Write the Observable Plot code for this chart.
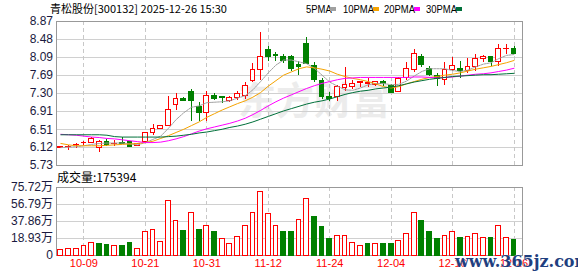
<!DOCTYPE html>
<html><head><meta charset="utf-8">
<script src="https://cdn.jsdelivr.net/npm/d3@7"></script>
<script src="https://cdn.jsdelivr.net/npm/@observablehq/plot@0.6"></script>
<style>
body{margin:0;background:#fff;}
#wrap{position:relative;width:578px;height:276px;overflow:hidden;background:#fff;}
.abs{position:absolute;white-space:nowrap;}
svg{overflow:visible;}
</style></head><body>
<div id="wrap">
  <div class="abs" style="left:238px;top:78px;font:bold 38px 'Noto Sans CJK SC';color:#ececec;line-height:40px;">东方财富</div>
  <div id="main" class="abs" style="left:0;top:0"></div>
  <div id="vol" class="abs" style="left:0;top:170px"></div>
  <div class="abs" style="left:50px;top:1px;font:11px 'Noto Sans CJK SC';line-height:14px;color:#000">青松股份[300132] 2025-12-26 15:30</div>
  <div id="legend"></div>
  <div class="abs" style="left:57px;top:169px;font:12px 'Noto Sans CJK SC';line-height:16px;color:#000">成交量:175394</div>
  <div class="abs" style="left:455px;top:253px;font:bold 16px 'DejaVu Serif';line-height:18px;color:#1f3f80;text-shadow:0 0 1px #fff;">www.365jz.com</div>
</div>
<script>
const dates = ["09-26","09-29","09-30","10-09","10-10","10-13","10-14","10-15","10-16","10-17","10-20","10-21","10-22","10-23","10-24","10-27","10-28","10-29","10-30","10-31","11-03","11-04","11-05","11-06","11-07","11-10","11-11","11-12","11-13","11-14","11-17","11-18","11-19","11-20","11-21","11-24","11-25","11-26","11-27","11-28","12-01","12-02","12-03","12-04","12-05","12-08","12-09","12-10","12-11","12-12","12-15","12-16","12-17","12-18","12-19","12-22","12-23","12-24","12-25","12-26"];
const open  = [6.11,6.13,6.17,6.22,6.21,6.11,6.24,6.19,6.21,6.25, 6.16,6.25,6.43,6.52,6.60,7.04,7.18,7.33,7.00,6.88, 7.24,7.22,7.13,7.20,7.24,7.57,7.82,8.25,8.13,8.09, 8.09,7.93,8.38,7.90,7.57,7.22,7.22,7.42,7.44,7.53, 7.50,7.49,7.54,7.46,7.33,7.64,7.81,8.09,7.83,7.68, 7.59,7.82,7.83,7.80,7.88,8.06,8.09,7.98,8.26,8.27];
const high  = [6.15,6.16,6.22,6.26,6.33,6.27,6.30,6.28,6.35,6.26, 6.21,6.46,6.63,6.61,7.23,7.31,7.22,7.38,7.10,7.34, 7.30,7.24,7.24,7.35,7.55,7.95,8.63,8.32,8.19,8.16, 8.12,7.99,8.52,7.97,7.62,7.32,7.48,7.86,7.59,7.57, 7.62,7.57,7.59,7.49,7.64,7.97,8.27,8.15,7.88,7.73, 7.97,8.08,7.99,8.06,8.14,8.13,8.11,8.37,8.36,8.33];
const low   = [6.10,6.05,6.11,6.16,6.20,6.01,6.14,6.14,6.18,6.12, 6.14,6.21,6.38,6.51,6.58,6.92,7.12,6.68,6.68,6.70, 7.15,7.08,7.10,7.15,7.17,7.54,7.59,7.99,8.00,7.95, 7.79,7.70,7.93,7.55,7.17,7.13,7.13,7.35,7.39,7.44, 7.44,7.46,7.46,7.30,7.32,7.58,7.76,7.87,7.66,7.46, 7.48,7.77,7.62,7.73,7.77,7.98,7.88,7.88,8.14,8.14];
const close = [6.14,6.14,6.18,6.23,6.31,6.24,6.17,6.20,6.19,6.13, 6.20,6.43,6.53,6.60,6.93,7.18,7.13,7.14,6.88,7.24, 7.18,7.20,7.21,7.28,7.46,7.81,8.09,8.10,8.12,8.00, 7.84,7.88,7.95,7.60,7.22,7.17,7.44,7.48,7.50,7.54, 7.53,7.54,7.51,7.32,7.61,7.83,8.17,7.92,7.70,7.62, 7.81,7.89,7.79,7.88,8.06,8.09,7.98,8.26,8.27,8.16];
const ma5  = [6.12,6.13,6.14,6.16,6.19,6.21,6.22,6.22,6.22,6.20, 6.18,6.23,6.30,6.37,6.54,6.73,6.88,7.00,7.03,7.10, 7.11,7.12,7.14,7.20,7.25,7.38,7.56,7.75,7.92,8.03, 8.03,7.99,7.95,7.85,7.70,7.55,7.46,7.38,7.37,7.42, 7.49,7.52,7.52,7.49,7.50,7.57,7.68,7.78,7.84,7.84, 7.84,7.80,7.78,7.81,7.88,7.94,7.97,8.06,8.13,8.15];
const ma10 = [6.21,6.18,6.16,6.16,6.16,6.16,6.17,6.18,6.19,6.20, 6.21,6.23,6.26,6.32,6.38,6.45,6.52,6.60,6.68,6.78, 6.86,6.94,7.01,7.08,7.14,7.22,7.32,7.46,7.58,7.70, 7.77,7.84,7.88,7.86,7.83,7.79,7.72,7.67,7.63,7.60, 7.56,7.51,7.45,7.42,7.45,7.51,7.56,7.61,7.65,7.67, 7.70,7.72,7.75,7.79,7.83,7.86,7.89,7.93,7.97,8.02];
const ma20 = [6.41,6.40,6.39,6.37,6.35,6.34,6.32,6.31,6.29,6.27, 6.25,6.23,6.23,6.24,6.27,6.31,6.36,6.42,6.48,6.53, 6.57,6.61,6.65,6.70,6.76,6.84,6.93,7.03,7.12,7.20, 7.27,7.34,7.41,7.47,7.52,7.56,7.60,7.63,7.64,7.65, 7.65,7.65,7.65,7.65,7.65,7.65,7.66,7.66,7.65,7.64, 7.65,7.66,7.68,7.70,7.72,7.73,7.75,7.78,7.81,7.85];
const ma30 = [6.40,6.40,6.40,6.40,6.40,6.40,6.39,6.36,6.35,6.35, 6.35,6.35,6.35,6.35,6.36,6.37,6.39,6.41,6.44,6.46, 6.49,6.52,6.56,6.59,6.63,6.68,6.74,6.80,6.86,6.92, 6.97,7.02,7.07,7.11,7.14,7.18,7.23,7.28,7.32,7.35, 7.37,7.40,7.42,7.44,7.47,7.51,7.55,7.58,7.61,7.63, 7.65,7.67,7.68,7.69,7.70,7.71,7.71,7.72,7.73,7.74];
const volume = [6.3,7.4,7.4,10.7,14.0,12.2,11.1,10.7,10.0,14.4, 7.4,26.2,28.4,15.1,60.6,38.4,27.7,47.3,28.8,32.9, 25.5,18.5,12.9,20.7,32.9,47.3,70.9,46.2,32.9,26.6, 25.5,39.5,62.8,43.2,32.1,18.8,21.8,21.8,14.0,10.7, 12.2,12.9,12.2,12.2,16.3,24.0,47.3,37.7,25.5,18.8, 21.8,26.2,19.9,20.7,24.0,19.6,19.9,32.9,19.6,17.54];
const volUp = [1,1,1,1,1,0,0,1,0,0, 1,1,1,1,1,1,0,1,0,1, 0,1,1,1,1,1,1,1,1,0, 0,1,1,0,0,0,1,1,1,1, 0,1,0,0,1,1,1,0,0,0, 1,1,0,1,1,1,0,1,1,0];
const priceTicks = [5.73,6.12,6.51,6.91,7.30,7.69,8.09,8.48,8.87];
const volTicks = [0,18.93,37.86,56.79,75.72];
const dateTickIdx = [3,11,19,27,35,43,51,59];
const maNames = ["5PMA","10PMA","20PMA","30PMA"];
const maColors = ["#a0a0a0","#f5a300","#ff00ff","#00703a"];
const RED = "#ff0000", GREEN = "#008000";

const candles = dates.map((d,i)=>({i, o:open[i], h:high[i], l:low[i], c:close[i], up: close[i]>=open[i]}));
const vols = dates.map((d,i)=>({i, v:volume[i], up: volUp[i]===1}));
const xDomain = [-0.57, 60.1];
const hw = 0.31;
const font = "'Liberation Sans','Noto Sans CJK SC',sans-serif";
const crisp = {shapeRendering:"crispEdges"};

const maLines = [ma5,ma10,ma20,ma30].map((arr,k)=>Plot.line(arr.map((v,i)=>({i,v})), {x:"i", y:"v", stroke: maColors[k], strokeWidth:1, strokeDasharray: k===0 ? "2,1" : null}));

const main = Plot.plot({
  width:578, height:170, marginLeft:56, marginRight:56, marginTop:21, marginBottom:5,
  x:{type:"linear", domain:xDomain, axis:null},
  y:{domain:[5.73,8.87], axis:null},
  color:{type:"identity"},
  style:{background:"transparent", overflow:"visible", fontFamily:font},
  marks:[
    Plot.gridY(priceTicks, {stroke:"#d0d0d0", strokeOpacity:1, ...crisp}),
    Plot.gridX(dateTickIdx, {stroke:"#c8c8c8", strokeOpacity:1, strokeDasharray:"4,3", ...crisp}),
    Plot.frame({stroke:"#999", ...crisp}),
    Plot.axisY(priceTicks, {anchor:"left", tickSize:0, tickPadding:3.5, tickFormat:d=>d.toFixed(2), fontSize:12, color:"#1a1a40", label:null}),
    Plot.ruleX(candles, {x:"i", y1:"l", y2:"h", stroke:d=>d.up?RED:GREEN, ...crisp}),
    Plot.rect(candles, {x1:d=>d.i-hw, x2:d=>d.i+hw, y1:"o", y2:"c", fill:d=>d.up?"#fff":GREEN, stroke:d=>d.up?RED:GREEN, ...crisp}),
    ...maLines
  ]
});
document.getElementById("main").appendChild(main);

const vol = Plot.plot({
  width:578, height:106, marginLeft:56, marginRight:56, marginTop:16.7, marginBottom:21,
  x:{type:"linear", domain:xDomain, axis:null},
  y:{domain:[0,75.72], axis:null},
  color:{type:"identity"},
  style:{background:"transparent", overflow:"visible", fontFamily:font},
  marks:[
    Plot.gridY(volTicks.slice(1,-1), {stroke:"#d0d0d0", strokeOpacity:1, ...crisp}),
    Plot.gridX(dateTickIdx, {stroke:"#c8c8c8", strokeOpacity:1, strokeDasharray:"4,3", ...crisp}),
    Plot.frame({stroke:"#999", ...crisp}),
    Plot.axisY(volTicks, {anchor:"left", tickSize:0, tickPadding:3.5, tickFormat:d=>d===0?"0":d.toFixed(2)+"万", fontSize:12, color:"#1a1a40", label:null}),
    Plot.axisX(dateTickIdx, {anchor:"bottom", tickSize:0, tickPadding:4, tickFormat:i=>dates[i], fontSize:11, color:RED, label:null}),
    Plot.rect(vols, {x1:d=>d.i-hw, x2:d=>d.i+hw, y1:0, y2:"v", fill:d=>d.up?"#fff":GREEN, stroke:d=>d.up?RED:GREEN, ...crisp})
  ]
});
document.getElementById("vol").appendChild(vol);

// legend
const legPos = [306,343,384,426];
const lg = document.getElementById("legend");
maNames.forEach((n,k)=>{
  const t = document.createElement("div");
  t.className="abs";
  t.style.cssText = `left:${legPos[k]}px;top:3px;font:11px 'Liberation Sans';line-height:12px;color:#000;transform:scaleX(0.86);transform-origin:left;`;
  t.textContent = n;
  lg.appendChild(t);
  const s = document.createElement("div");
  s.className="abs";
  const w = n.length*5.6*1 + 0;
  s.style.cssText = `left:${legPos[k]+ (n.length===4?24:30)}px;top:7px;width:6px;height:4px;background:${maColors[k]};`;
  lg.appendChild(s);
});
</script>
</body></html>
